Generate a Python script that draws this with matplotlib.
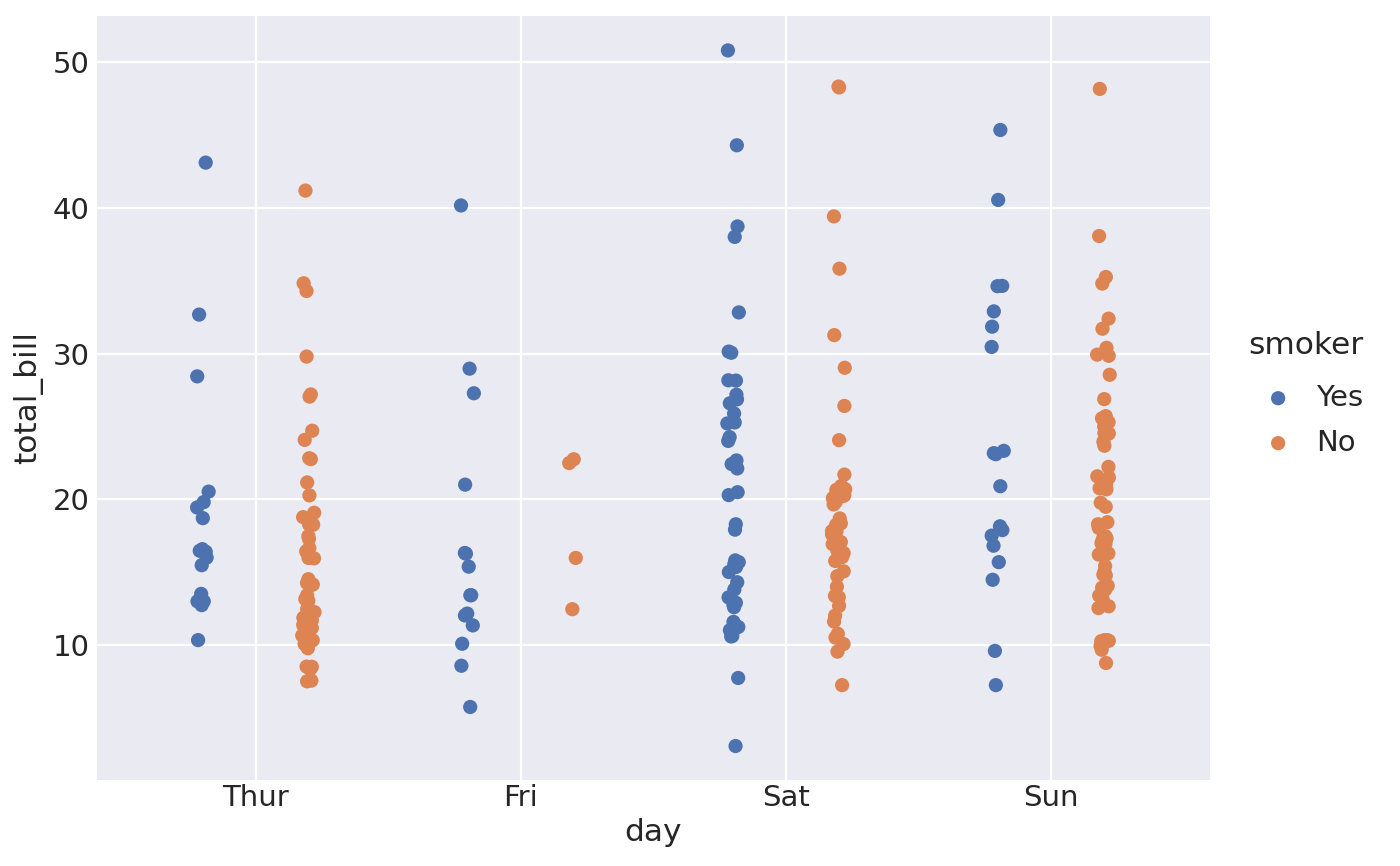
import numpy as np
import matplotlib
matplotlib.use("Agg")
import matplotlib.pyplot as plt

days = ["Thur", "Fri", "Sat", "Sun"]
smoker_levels = ["Yes", "No"]

# total_bill per day, smokers
thur_yes = [19.44, 32.68, 16.0, 19.81, 28.44, 15.48, 16.58, 10.34, 43.11, 13.0,
            13.51, 18.71, 12.74, 13.0, 16.4, 20.53, 16.47]
fri_yes = [28.97, 5.75, 16.32, 40.17, 27.28, 12.03, 21.01, 11.35, 15.38, 12.16,
           13.42, 8.58, 13.42, 16.27, 10.09]
sat_yes = [38.01, 11.24, 20.29, 13.81, 11.02, 18.29, 3.07, 15.01, 26.86, 25.28,
           17.92, 44.3, 22.42, 15.36, 20.49, 25.21, 14.31, 10.59, 10.63, 50.81,
           15.81, 26.59, 38.73, 24.27, 12.76, 30.06, 25.89, 13.27, 28.17, 12.9,
           28.15, 11.59, 7.74, 30.14, 22.12, 24.01, 15.69, 15.53, 12.6, 32.83,
           27.18, 22.67]
sun_yes = [17.51, 7.25, 31.85, 16.82, 32.9, 17.89, 14.48, 9.6, 34.63, 34.65,
           23.33, 45.35, 23.17, 40.55, 20.9, 30.46, 18.15, 23.1, 15.69]

# total_bill per day, non-smokers
thur_no = [27.2, 22.76, 17.29, 16.66, 10.07, 15.98, 34.83, 13.03, 18.28, 24.71,
           21.16, 10.65, 12.43, 24.08, 11.69, 13.42, 14.26, 15.95, 12.48, 29.8,
           8.52, 14.52, 11.38, 22.82, 19.08, 20.27, 11.17, 12.26, 18.26, 8.51,
           10.33, 14.15, 13.16, 17.47, 34.3, 41.19, 27.05, 16.43, 8.35, 18.64,
           11.87, 9.78, 7.51, 7.56, 18.78]
fri_no = [22.49, 22.75, 12.46, 15.98]
sat_no = [20.65, 17.92, 20.29, 15.77, 39.42, 19.82, 17.81, 13.37, 12.69, 21.7,
          19.65, 9.55, 18.35, 15.06, 20.69, 17.78, 24.06, 16.31, 16.93, 18.69,
          31.27, 16.04, 26.41, 48.27, 17.59, 20.08, 16.45, 20.23, 12.02, 17.07,
          14.73, 10.51, 20.92, 18.24, 14.0, 7.25, 48.33, 20.45, 13.28, 11.61,
          10.77, 10.07, 35.83, 29.03, 17.82]
sun_no = [16.99, 10.34, 21.01, 23.68, 24.59, 25.29, 8.77, 26.88, 15.04, 14.78,
          10.27, 35.26, 15.42, 18.43, 14.83, 21.58, 10.33, 16.29, 16.97, 17.46,
          13.94, 9.68, 30.4, 18.29, 22.23, 32.4, 28.55, 18.04, 12.54, 10.29,
          34.81, 9.94, 25.56, 19.49, 38.07, 23.95, 25.71, 17.31, 29.93, 14.07,
          13.13, 17.26, 24.55, 19.77, 29.85, 48.17, 25.0, 13.39, 16.49, 21.5,
          12.66, 16.21, 13.81, 24.52, 20.76, 31.71, 20.69]

groups = {
    "Yes": [thur_yes, fri_yes, sat_yes, sun_yes],
    "No": [thur_no, fri_no, sat_no, sun_no],
}
colors = {"Yes": "#4C72B0", "No": "#DD8452"}
dodge = {"Yes": -0.2, "No": 0.2}

plt.rcParams["font.family"] = "DejaVu Sans"
fig = plt.figure(figsize=(14, 8.66), dpi=100)
ax = fig.add_axes([0.069, 0.0995, 0.795, 0.8825])
ax.set_facecolor("#EAEAF2")
for s in ax.spines.values():
    s.set_visible(False)
ax.grid(True, color="white", linewidth=1.6)
ax.set_axisbelow(True)

rng = np.random.default_rng(3)
for lvl in smoker_levels:
    for i, vals in enumerate(groups[lvl]):
        x = i + dodge[lvl] + rng.uniform(-0.025, 0.025, len(vals))
        ax.scatter(x, vals, s=105, color=colors[lvl], edgecolors="none",
                   label=lvl if i == 0 else None, zorder=3)

ax.set_xticks(range(len(days)))
ax.set_xticklabels(days)
ax.set_xlim(-0.6, 3.6)
ax.set_ylim(0.75, 53.2)
ax.set_yticks([10, 20, 30, 40, 50])
ax.tick_params(axis="both", length=0, labelsize=21, colors="#262626")
ax.tick_params(axis="x", pad=3)
ax.tick_params(axis="y", pad=5)
ax.set_xlabel("day", fontsize=22.5, color="#262626", labelpad=4)
ax.set_ylabel("total_bill", fontsize=22.5, color="#262626", labelpad=7)

leg = fig.legend(loc="center left", bbox_to_anchor=(0.873, 0.545), frameon=False,
                 title="smoker", fontsize=21, title_fontsize=22.5,
                 handletextpad=0.3, markerscale=1.0, labelspacing=0.58)
leg._legend_box.sep = 17
for t in leg.get_texts():
    t.set_color("#262626")
leg.get_title().set_color("#262626")

fig.savefig("out.png", dpi=100)
